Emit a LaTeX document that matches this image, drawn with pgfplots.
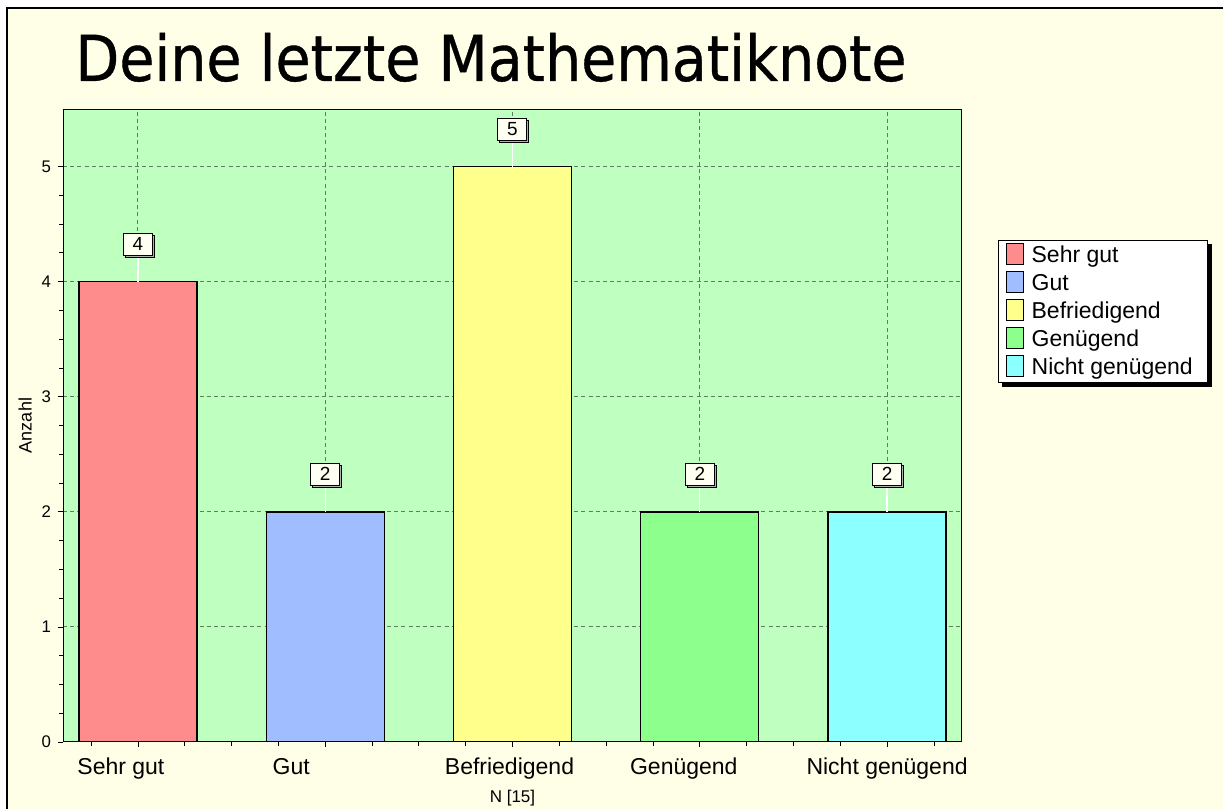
\documentclass[border=0pt]{standalone}
\usepackage{fontspec}
\setmainfont{Liberation Sans}
\newfontfamily\titlefont[FakeBold=0.6]{DejaVu Sans Condensed}
\usepackage{pgfplots}
\pgfplotsset{compat=1.18}
\usetikzlibrary{shadows}
\pgfdeclarelayer{bg}
\pgfdeclarelayer{shadowlayer}
\pgfsetlayers{bg,shadowlayer,main}

\definecolor{bgcream}{RGB}{255,254,230}
\definecolor{plotbg}{RGB}{191,255,191}
\definecolor{cSehr}{RGB}{255,140,140}
\definecolor{cGut}{RGB}{160,190,255}
\definecolor{cBef}{RGB}{255,255,140}
\definecolor{cGen}{RGB}{140,255,140}
\definecolor{cNicht}{RGB}{140,255,255}
\definecolor{gridc}{RGB}{95,125,95}
\definecolor{boxfill}{RGB}{255,255,242}

\begin{document}
\begin{tikzpicture}
\useasboundingbox (0,0) rectangle (611.5pt,404.5pt);
\begin{pgfonlayer}{bg}
\fill[white] (0,0) rectangle (611.5pt,404.5pt);
\filldraw[fill=bgcream, draw=black, line width=1.2pt] (3.5pt,-5pt) rectangle (620pt,400.5pt);
\end{pgfonlayer}
\node[anchor=base west, inner sep=0pt, font=\titlefont\fontsize{31.7}{32}\selectfont] at (37.5pt,364pt) {Deine letzte Mathematiknote};

\begin{axis}[
  at={(31.5pt,33.5pt)}, anchor=south west,
  scale only axis, width=449.5pt, height=316.5pt,
  xmin=-0.4, xmax=4.4, ymin=0, ymax=5.5,
  axis background/.style={fill=plotbg},
  ybar, bar width=0.63, bar shift=0pt,
  xtick={0,1,2,3,4},
  xticklabels={{\hspace*{-8.5pt}Sehr gut\hspace*{8.5pt}},{\hspace*{-17pt}Gut\hspace*{17pt}},{\hspace*{-1.5pt}Befriedigend\hspace*{1.5pt}},{\hspace*{-8pt}Genügend\hspace*{8pt}},{Nicht genügend}},
  minor xtick={-0.25,0,...,4.25},
  ytick={0,1,2,3,4,5}, minor y tick num=3,
  tick align=outside, tick pos=left,
  major tick length=2.5pt, minor tick length=1.8pt,
  tick style={black, line width=0.4pt},
  xmajorgrids, ymajorgrids,
  grid style={gridc, line width=0.5pt, dash pattern=on 2pt off 1.6pt},
  axis line style={line width=0.5pt},
  /pgf/number format/assume math mode=true,
  xticklabel style={font=\fontsize{11.5}{12}\selectfont, yshift=-2pt},
  yticklabel style={font=\fontsize{8.4}{9}\selectfont},
  ylabel={Anzahl}, ylabel shift=-2pt,
  ylabel style={font=\fontsize{9}{10}\selectfont},
  xlabel={N [15]},
  xlabel style={font=\fontsize{8.5}{9}\selectfont, yshift=1.5pt},
  nodes near coords,
  every node near coord/.append style={font=\fontsize{9.5}{10}\selectfont, fill=boxfill, draw=black, line width=0.5pt, inner sep=0pt, minimum width=14.5pt, minimum height=11pt, anchor=south, yshift=13pt, drop shadow={shadow xshift=1pt, shadow yshift=-1pt, fill=gray!60, opacity=1}},
  error bars/y dir=plus, error bars/y fixed=0.226, error bars/error mark=none,
  error bars/error bar style={white, line width=0.6pt},
  legend style={name=leg, at={(1.04,0.793)}, anchor=north west, draw=black, line width=0.5pt, fill=white, font=\fontsize{11.5}{12}\selectfont, inner xsep=4pt, inner ysep=1pt, row sep=1.3pt, nodes={inner sep=0pt, text height=9pt, text depth=3pt}},
  legend cell align=left,
  legend image code/.code={\draw[#1, draw=black, line width=0.5pt] (0pt,-4pt) rectangle (8.5pt,6.5pt); \path (12pt,0pt);},
]
\addplot[fill=cSehr, draw=black, line width=0.7pt] coordinates {(0,4)};
\addlegendentry{Sehr gut}
\addplot[fill=cGut, draw=black, line width=0.7pt] coordinates {(1,2)};
\addlegendentry{Gut}
\addplot[fill=cBef, draw=black, line width=0.7pt] coordinates {(2,5)};
\addlegendentry{Befriedigend}
\addplot[fill=cGen, draw=black, line width=0.7pt] coordinates {(3,2)};
\addlegendentry{Genügend}
\addplot[fill=cNicht, draw=black, line width=0.7pt] coordinates {(4,2)};
\addlegendentry{Nicht genügend\hspace*{3.5pt}}
\draw[line width=1.3pt] (rel axis cs:0,1) -- (rel axis cs:0,0) -- (rel axis cs:1,0);
\end{axis}
\begin{pgfonlayer}{shadowlayer}
\fill[black] ([xshift=2pt,yshift=-2pt]leg.south west) rectangle ([xshift=2pt,yshift=-2pt]leg.north east);
\end{pgfonlayer}
\end{tikzpicture}
\end{document}
